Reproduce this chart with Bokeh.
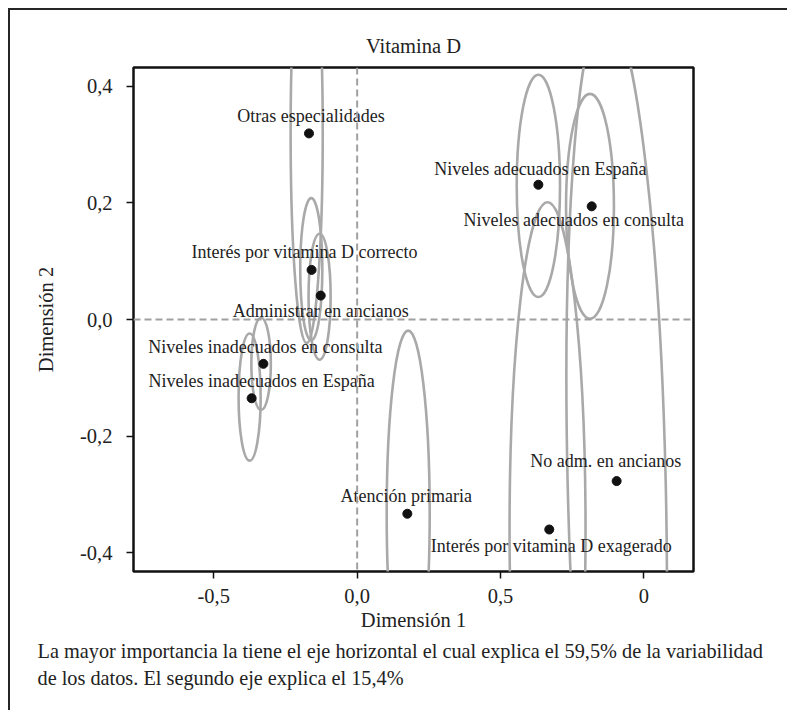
from bokeh.plotting import figure
from bokeh.models import FixedTicker, Span, Title, ColumnDataSource
from bokeh.embed import file_html
from bokeh.resources import INLINE
from bokeh.core.properties import value

# ---------------- data ----------------
categories = [
    "Otras especialidades",
    "Interés por vitamina D correcto",
    "Administrar en ancianos",
    "Niveles inadecuados en consulta",
    "Niveles inadecuados en España",
    "Atención primaria",
    "Interés por vitamina D exagerado",
    "No adm. en ancianos",
    "Niveles adecuados en España",
    "Niveles adecuados en consulta",
]
dim1 = [-0.168, -0.159, -0.127, -0.327, -0.368, 0.175, 0.670, 0.905, 0.632, 0.818]
dim2 = [0.319, 0.085, 0.041, -0.076, -0.135, -0.333, -0.360, -0.277, 0.231, 0.194]

# confidence ellipses (centre, full width, full height, rotation)
ell_x = [-0.176, -0.160, -0.131, -0.335, -0.375, 0.178, 0.664, 0.905, 0.632, 0.812]
ell_y = [0.319, 0.086, 0.039, -0.076, -0.133, -0.333, -0.360, -0.278, 0.229, 0.194]
ell_w = [0.112, 0.077, 0.077, 0.068, 0.077, 0.150, 0.265, 0.342, 0.151, 0.167]
ell_h = [0.720, 0.244, 0.216, 0.158, 0.218, 0.628, 1.122, 1.619, 0.381, 0.386]
ell_angle = [0.0, 0.0, 0.0, 0.0, 0.0, 0.0, 0.0, 0.023, 0.0, 0.0]

x_ticks = [-0.5, 0.0, 0.5, 1.0]
x_tick_labels = ["-0,5", "0,0", "0,5", "0"]
y_ticks = [-0.4, -0.2, 0.0, 0.2, 0.4]
y_tick_labels = ["-0,4", "-0,2", "0,0", "0,2", "0,4"]

title_text = "Vitamina D"
x_title = "Dimensión 1"
y_title = "Dimensión 2"
note_lines = [
    "La mayor importancia la tiene el eje horizontal el cual explica el 59,5% de la variabilidad",
    "de los datos. El segundo eje explica el 15,4%",
]

# ---------------- label layout (pixels) ----------------
label_dx = [2, -7, 0, 2, 10, -1, 2, -11, 2, -18]
label_dy = [-17, -18, 15, -17, -17, -18, 16, -20, -16, 14]

FONT = "'Liberation Serif', 'Times New Roman', serif"

p = figure(
    width=779, height=702,
    x_range=(-0.78, 1.173), y_range=(-0.432, 0.432),
    output_backend="svg", toolbar_location=None,
    min_border_left=123, min_border_right=96, min_border_top=57, min_border_bottom=141,
    title=title_text,
)
p.styles = {"border-top": "2px solid #262626", "border-left": "2px solid #262626",
            "margin-top": "8px", "margin-left": "8px"}
p.background_fill_color = "white"
p.border_fill_color = "white"
p.grid.visible = False
p.outline_line_color = "#111111"
p.outline_line_width = 2.5

p.title.align = "center"
p.title.text_font = FONT
p.title.text_font_style = "normal"
p.title.text_font_size = "20.5px"
p.title.text_color = "#222222"
p.title.standoff = 21

for ax in (p.xaxis[0], p.yaxis[0]):
    ax.axis_line_color = None
    ax.major_tick_line_color = "#111111"
    ax.major_tick_line_width = 1.5
    ax.major_tick_out = 7
    ax.major_tick_in = 0
    ax.minor_tick_line_color = None
    ax.major_label_text_font = FONT
    ax.major_label_text_font_size = "20.5px"
    ax.major_label_text_color = "#222222"
    ax.axis_label_text_font = FONT
    ax.axis_label_text_font_style = "normal"
    ax.axis_label_text_font_size = "20.5px"
    ax.axis_label_text_color = "#222222"

p.xaxis[0].ticker = FixedTicker(ticks=x_ticks)
p.xaxis[0].major_label_overrides = dict(zip(x_ticks, x_tick_labels))
p.xaxis[0].axis_label = x_title
p.xaxis[0].major_label_standoff = 10
p.xaxis[0].axis_label_standoff = 3

p.yaxis[0].ticker = FixedTicker(ticks=y_ticks)
p.yaxis[0].major_label_overrides = dict(zip(y_ticks, y_tick_labels))
p.yaxis[0].axis_label = y_title
p.yaxis[0].major_label_standoff = 14
p.yaxis[0].axis_label_standoff = 20
p.yaxis[0].major_label_orientation = "horizontal"

# zero reference lines
for dim in ("width", "height"):
    p.add_layout(Span(location=0.0, dimension=dim, line_color="#a0a0a0",
                      line_width=2, line_dash="7 4"))

ell_src = ColumnDataSource(dict(x=ell_x, y=ell_y, w=ell_w, h=ell_h, a=ell_angle))
p.ellipse(x="x", y="y", width="w", height="h", angle="a", source=ell_src,
          fill_color=None, line_color="#a9a9a9", line_width=2.6)

pt_src = ColumnDataSource(dict(x=dim1, y=dim2, name=categories, dx=label_dx, dy=label_dy))
p.scatter(x="x", y="y", source=pt_src, size=9, fill_color="#111111", line_color="#111111")
p.text(x="x", y="y", text="name", x_offset="dx", y_offset="dy", source=pt_src,
       text_font=value(FONT), text_font_size="18px", text_color="#222222",
       text_align="center", text_baseline="alphabetic")

for i, line in enumerate(note_lines):
    p.add_layout(Title(text=line, align="left", offset=-96, text_font=FONT,
                       text_font_style="normal", text_font_size="20.3px",
                       text_color="#222222", standoff=(9 if i == 0 else -3)), "below")

open("out.html", "w").write(file_html(p, INLINE))
